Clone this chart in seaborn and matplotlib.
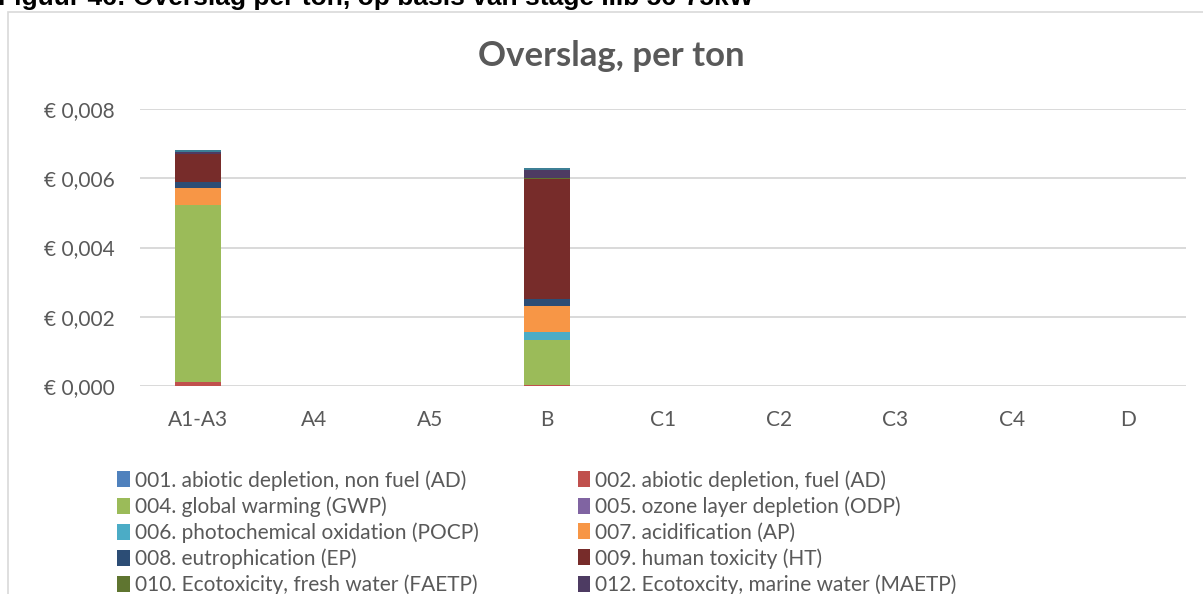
import numpy as np
import pandas as pd
import matplotlib
matplotlib.use("Agg")
import matplotlib.pyplot as plt
from matplotlib.patches import Patch, Rectangle
import seaborn as sns

# Life-cycle stages on the x axis
stages = ["A1-A3", "A4", "A5", "B", "C1", "C2", "C3", "C4", "D"]

# Environmental impact categories (stacking order, bottom to top)
categories = [
    "001. abiotic depletion, non fuel (AD)",
    "002. abiotic depletion, fuel (AD)",
    "004. global warming (GWP)",
    "005. ozone layer depletion (ODP)",
    "006. photochemical oxidation (POCP)",
    "007. acidification (AP)",
    "008. eutrophication (EP)",
    "009. human toxicity (HT)",
    "010. Ecotoxicity, fresh water (FAETP)",
    "012. Ecotoxcity, marine water (MAETP)",
    "013. Ecotoxicity, terrestric (TETP)",
]

colors = ["#4F81BD", "#C0504D", "#9BBB59", "#8064A2", "#4BACC6", "#F79646",
          "#2C4D75", "#772C2A", "#5F7530", "#4D3B62", "#3D7F95"]

# Shadow cost per ton (EUR) for each category, per stage
v_001 = [0.00000, 0, 0, 0.00000, 0, 0, 0, 0, 0]
v_002 = [0.00012, 0, 0, 0.00002, 0, 0, 0, 0, 0]
v_004 = [0.00511, 0, 0, 0.00131, 0, 0, 0, 0, 0]
v_005 = [0.00000, 0, 0, 0.00000, 0, 0, 0, 0, 0]
v_006 = [0.00001, 0, 0, 0.00024, 0, 0, 0, 0, 0]
v_007 = [0.00049, 0, 0, 0.00074, 0, 0, 0, 0, 0]
v_008 = [0.00017, 0, 0, 0.00019, 0, 0, 0, 0, 0]
v_009 = [0.00080, 0, 0, 0.00347, 0, 0, 0, 0, 0]
v_010 = [0.00001, 0, 0, 0.00005, 0, 0, 0, 0, 0]
v_012 = [0.00006, 0, 0, 0.00022, 0, 0, 0, 0, 0]
v_013 = [0.00004, 0, 0, 0.00005, 0, 0, 0, 0, 0]
series = [v_001, v_002, v_004, v_005, v_006, v_007, v_008, v_009, v_010, v_012, v_013]

TEXT = "#595959"
GRID = "#D9D9D9"

sns.set_theme(style="white")
plt.rcParams["font.family"] = ["Lato", "DejaVu Sans"]

W, H = 1203, 594
fig = plt.figure(figsize=(W / 100, H / 100), dpi=100)
ax = fig.add_axes([140 / W, 1 - 386 / H, (1186 - 140) / W, (386 - 109) / H])

# Stacked bars: draw cumulative totals from the top series down
cum = np.cumsum(np.array(series), axis=0)
for i in range(len(series) - 1, -1, -1):
    df = pd.DataFrame({"stage": stages, "value": cum[i]})
    sns.barplot(data=df, x="stage", y="value", order=stages, color=colors[i],
                saturation=1, width=0.4, linewidth=0, ax=ax, errorbar=None)

ax.set_ylim(0, 0.008)
ax.set_xlim(-0.5, len(stages) - 0.5)
ax.set_yticks(np.arange(0, 0.0081, 0.002))
ax.set_yticklabels([f"€ {t:.3f}".replace(".", ",") for t in np.arange(0, 0.0081, 0.002)])
ax.yaxis.grid(True, color=GRID, linewidth=1.4)
ax.set_axisbelow(True)
for s in ["top", "right", "left", "bottom"]:
    ax.spines[s].set_visible(False)
ax.tick_params(axis="both", length=0, labelsize=15, colors=TEXT)
ax.tick_params(axis="y", pad=18)
ax.tick_params(axis="x", pad=17)
ax.set_xlabel("")
ax.set_ylabel("")

fig.text(611 / W, 1 - 56 / H, "Overslag, per ton", ha="center", va="center",
         fontsize=25, fontweight="bold", color=TEXT)

# Figure caption above the chart frame
fig.text(-2 / W, 1 - 5 / H, "Figuur 46: Overslag per ton, op basis van stage IIIb 56-75kW",
         ha="left", va="baseline", fontsize=19, fontweight="bold",
         family=["Liberation Sans", "DejaVu Sans"], color="black")

# Chart frame
fig.patches.append(Rectangle((8 / W, -0.2), 1.2, 1 - 12 / H + 0.2, transform=fig.transFigure,
                             fill=False, edgecolor=GRID, linewidth=1.2))

# Legend, filled row by row in two columns
handles = [Patch(facecolor=c, edgecolor="none") for c in colors]
order = list(range(0, len(categories), 2)) + list(range(1, len(categories), 2))
leg = fig.legend([handles[i] for i in order], [categories[i] for i in order],
                 loc="upper left", bbox_to_anchor=(117 / W, 1 - 470 / H),
                 ncol=2, frameon=False, fontsize=15, labelcolor=TEXT,
                 handlelength=0.6, handleheight=0.8, handletextpad=0.25,
                 columnspacing=4.75, labelspacing=0.27, borderaxespad=0, borderpad=0)

fig.savefig("out.png", dpi=100)
